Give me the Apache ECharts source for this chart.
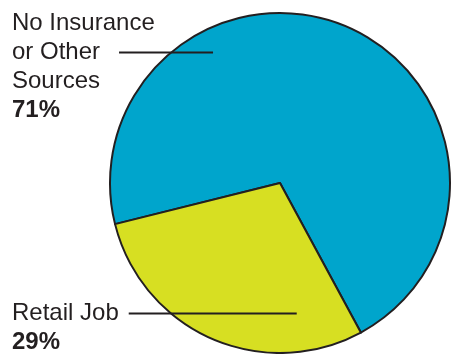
<!DOCTYPE html>
<html>
<head>
<meta charset="utf-8">
<script src="https://cdn.jsdelivr.net/npm/echarts@6/dist/echarts.min.js"></script>
<style>
  html, body { margin: 0; padding: 0; background: #fff; }
  #chart { width: 452px; height: 354px; }
</style>
</head>
<body>
<div id="chart"></div>
<script>
// data
var categories = ["No Insurance\nor Other\nSources", "Retail Job"];
var values = [71, 29];
var colors = ["#00a5cc", "#d7df22"];

// label placement: top-left corner, which text line carries the leader,
// gap before the leader and its length
var labelPos = [
  { x: 12, y: 9, lineRow: 1, gap: 19, len: 94 },
  { x: 12, y: 299, lineRow: 0, gap: 10, len: 168 }
];

var pieData = [];
for (var i = 0; i < categories.length; i++) {
  pieData.push({
    name: categories[i],
    value: values[i],
    itemStyle: { color: colors[i] }
  });
}

var font = 'Liberation Sans, Arial, sans-serif';
var ink = '#231f20';

var chart = echarts.init(document.getElementById('chart'), null, { renderer: 'canvas' });
chart.setOption({
  animation: false,
  series: [{
    type: 'pie',
    center: [280, 183],
    radius: 170,
    startAngle: 194,
    clockwise: true,
    avoidLabelOverlap: false,
    data: pieData,
    itemStyle: { borderColor: ink, borderWidth: 2 },
    emphasis: { disabled: true },
    label: {
      show: true,
      position: 'outside',
      color: ink,
      fontFamily: font,
      formatter: function (p) {
        var lp = labelPos[p.dataIndex];
        var lines = p.name.split('\n').map(function (s, k) {
          var t = '{n|' + s + '}';
          if (k === lp.lineRow) {
            t += '{g' + p.dataIndex + '| }{l' + p.dataIndex + '| }';
          }
          return t;
        });
        lines.push('{p|' + p.value + '%}');
        return lines.join('\n');
      },
      rich: {
        n: { fontSize: 24, lineHeight: 29, color: ink, fontFamily: font },
        p: { fontSize: 24, lineHeight: 29, fontWeight: 'bold', color: ink, fontFamily: font },
        g0: { width: labelPos[0].gap, height: 2, lineHeight: 2, fontSize: 1 },
        l0: { width: labelPos[0].len, height: 2, lineHeight: 2, fontSize: 1, backgroundColor: ink },
        g1: { width: labelPos[1].gap, height: 2, lineHeight: 2, fontSize: 1 },
        l1: { width: labelPos[1].len, height: 2, lineHeight: 2, fontSize: 1, backgroundColor: ink }
      }
    },
    labelLine: { show: false },
    labelLayout: function (params) {
      var lp = labelPos[params.dataIndex];
      return { x: lp.x, y: lp.y, align: 'left', verticalAlign: 'top' };
    }
  }]
});
</script>
</body>
</html>
